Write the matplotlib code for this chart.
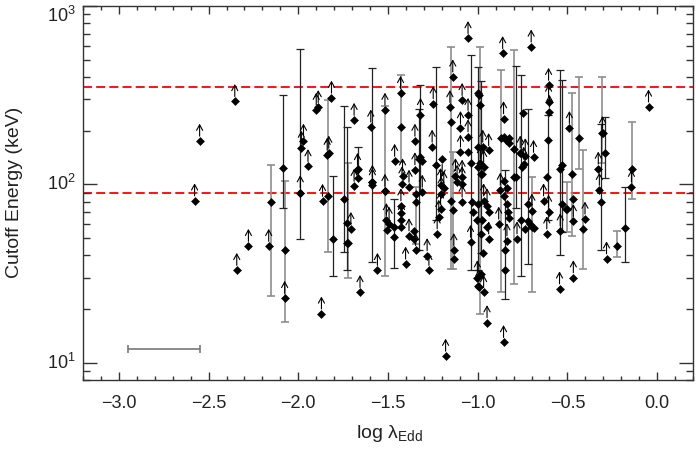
import numpy as np
import matplotlib
matplotlib.use('Agg')
import matplotlib.pyplot as plt
from matplotlib.ticker import MultipleLocator, LogLocator, NullFormatter

plt.rcParams['font.family'] = ['Liberation Sans', 'DejaVu Sans']
plt.rcParams['mathtext.fontset'] = 'custom'
plt.rcParams['mathtext.rm'] = 'Liberation Sans'

# lower limits on the cutoff energy (drawn with an up arrow)
lim_x = [-2.578, -2.55, -2.354, -2.343, -2.278, -2.165, -2.076, -1.983, -1.971, -1.946,
         -1.989, -1.900, -1.889, -1.815, -1.839, -1.830, -1.865, -1.871, -1.707, -1.689,
         -1.689, -1.670, -1.656, -1.596, -1.587, -1.587, -1.559, -1.517, -1.517, -1.509,
         -1.494, -1.463, -1.430, -1.419, -1.422, -1.383, -1.428, -1.425, -1.350, -1.350,
         -1.383, -1.346, -1.402, -1.319, -1.309, -1.282, -1.272, -1.248, -1.254, -1.226,
         -1.217, -1.207, -1.207, -1.189, -1.204, -1.179, -1.139, -1.155, -1.133, -1.124,
         -1.087, -1.087, -1.115, -1.087, -1.096, -1.096, -1.087, -1.054, -1.054, -1.054,
         -1.040, -1.002, -0.972, -0.939, -0.967, -0.985, -0.967, -0.948, -0.939, -0.967,
         -0.948, -0.994, -0.861, -0.856, -0.874, -0.883, -0.837, -0.856, -0.702, -0.781,
         -0.763, -0.735, -0.744, -0.689, -0.698, -0.605, -0.605, -0.600, -0.633, -0.605,
         -0.615, -0.544, -0.540, -0.489, -0.467, -0.467, -0.402, -0.328, -0.322, -0.304,
         -0.282, -0.143, -0.048]
lim_y = [81, 175, 292, 33, 45, 45, 23, 160, 175, 126,
         90, 261, 270, 305, 146, 150, 80.5, 18.8, 56, 229,
         97.7, 120, 24.8, 210, 103, 98.6, 33, 261, 91.6, 62.8,
         60, 135, 324, 112, 101, 96.6, 76, 63, 121, 175,
         51.6, 42.6, 35.8, 244, 90.6, 39.9, 33, 284, 162, 52.9,
         65.5, 73, 98.6, 95, 88.7, 10.9, 401, 270, 42.6, 112,
         110, 101, 103, 79.6, 206, 152, 296, 658, 244, 185,
         47.4, 30, 162, 155, 125, 131, 81, 76, 49.6, 24.8,
         16.8, 26.7, 542, 234, 93, 60, 48.4, 13, 590, 49.6,
         150, 145, 130, 142, 71, 360, 290, 254, 81, 70,
         52.9, 26, 55, 206, 62, 30, 64, 122, 92.8, 193,
         38.3, 96.6, 272]

# measured cutoffs without plotted errors
det_x = [-1.726, -1.665, -1.507, -1.467, -1.428, -1.425, -1.346, -1.355, -1.355, -1.311,
         -1.147, -1.133, -1.054, -1.030, -1.027, -0.998, -0.998, -0.998, -1.002, -0.998,
         -0.994, -0.976, -0.939, -0.976, -0.948, -0.980, -0.972, -0.980, -0.856, -0.845,
         -0.828, -0.828, -0.800, -0.855, -0.839, -0.855, -0.839, -0.833, -0.828, -0.846,
         -0.748, -0.752, -0.735, -0.717, -0.707, -0.689, -0.615, -0.532, -0.507, -0.470]
det_y = [46.8, 108, 55.8, 57.5, 69, 57.5, 79.6, 55, 49.6, 135,
         81, 38.3, 152, 79.6, 70, 324, 125, 78, 62.8, 27,
         316, 115, 70, 62.8, 57.5, 53, 41, 31.5, 185, 178,
         181, 170, 158, 105, 96, 86, 78, 70, 65, 42.6,
         251, 125, 56, 62, 60, 57, 110, 78, 73, 83]

# upper limit
ul_x = [-1.198]
ul_y = [138]

# error bars drawn in black: value, lower and upper end
ebk_x = [-2.087, -1.989, -1.804, -1.744, -1.726, -1.665, -1.587, -1.467, -1.319, -1.328,
         -1.235, -1.040, -1.000, -0.980, -0.850, -0.785, -0.757, -0.721, -0.608, -0.540,
         -0.528, -0.313, -0.291, -0.179]
ebk_y = [124, 90, 49.6, 83, 61, 122, 103, 50.6, 142, 138,
         128, 131, 162, 115, 32.9, 110, 62.8, 78, 177, 122,
         128, 79.6, 149, 56.8]
ebk_lo = [74, 49.6, 30.5, 41.7, 32.9, 108, 36.9, 33.9, 88.7, 42.6,
          62.8, 32.9, 33, 41, 22.8, 74, 30.8, 35.8, 62.8, 40,
          54, 43, 108, 36.9]
ebk_hi = [318, 571, 111, 274, 210, 162, 450, 82.5, 360, 266,
          456, 531, 456, 380, 120, 460, 409, 266, 244, 440,
          384, 217, 239, 96.6]

# error bars drawn in grey
egr_x = [-2.150, -2.076, -1.833, -1.721, -1.517, -1.430, -1.346, -1.147, -1.140, -0.989,
         -0.868, -0.796, -0.698, -0.504, -0.476, -0.435, -0.415, -0.309, -0.226, -0.139]
egr_y = [80, 43, 86, 46.8, 91.6, 210, 88.7, 224, 71.4, 278,
         181, 110, 58, 73, 115, 182, 56, 193, 45, 122]
egr_lo = [23.8, 16.9, 41.7, 29.9, 30.8, 133, 46.5, 33.6, 33.6, 18.8,
          25, 27.6, 24.8, 54, 51.6, 122, 33.6, 132, 39, 83]
egr_hi = [128, 105, 296, 132, 274, 409, 97, 590, 152, 590,
          440, 566, 110, 103, 324, 401, 156, 398, 55, 224]

# reference cutoff energies
ref_ecut = [90, 350]

# typical error on log lambda_Edd
typ_x, typ_y, typ_dx = -2.75, 12, 0.2

ytick_vals = [10, 100, 1000]
ytick_labels = [r'$\mathdefault{10^{1}}$', r'$\mathdefault{10^{2}}$', r'$\mathdefault{10^{3}}$']

fig = plt.figure(figsize=(6.96, 4.49), dpi=100)
ax = fig.add_axes([83/696, 1 - 380/449, 610/696, 374/449])
ax.set_yscale('log')
ax.set_xlim(-3.2, 0.2)
ax.set_ylim(8, 1000)

for e in ref_ecut:
    ax.axhline(e, color='red', lw=1.3, dashes=(5, 2.3), zorder=1)

ex = np.array(egr_x); ey = np.array(egr_y)
ax.errorbar(ex, ey, yerr=[ey - np.array(egr_lo), np.array(egr_hi) - ey], fmt='none',
            ecolor='#8e8e8e', elinewidth=1.2, capsize=3, capthick=1.2, zorder=2)
bx = np.array(ebk_x); by = np.array(ebk_y)
ax.errorbar(bx, by, yerr=[by - np.array(ebk_lo), np.array(ebk_hi) - by], fmt='none',
            ecolor='#222222', elinewidth=0.9, capsize=3, capthick=0.9, zorder=2)

ax.errorbar([typ_x], [typ_y], xerr=[typ_dx], fmt='none', ecolor='#777777',
            elinewidth=1.2, capsize=3, capthick=1.2)

allx = lim_x + det_x + ul_x + ebk_x + egr_x
ally = lim_y + det_y + ul_y + ebk_y + egr_y
ax.plot(allx, ally, 'D', color='k', ms=4.4, mec='k', mew=0.4, ls='none', zorder=4)

arrow = dict(arrowstyle='<-,head_length=0.4,head_width=0.22', mutation_scale=10,
             color='k', lw=0.8, shrinkA=0, shrinkB=3.5)
for x, y in zip(lim_x, lim_y):
    ax.annotate('', xy=(x, y), xytext=(0, 12.5), textcoords='offset points',
                arrowprops=arrow, zorder=3)
for x, y in zip(ul_x, ul_y):
    ax.annotate('', xy=(x, y), xytext=(0, -12.5), textcoords='offset points',
                arrowprops=arrow, zorder=3)

ax.xaxis.set_major_locator(MultipleLocator(0.5))
ax.xaxis.set_minor_locator(MultipleLocator(0.1))
ax.xaxis.set_major_formatter(plt.FuncFormatter(lambda v, p: f'{v:.1f}'.replace('-', '\u2212')))
ax.set_yticks(ytick_vals, ytick_labels, va='center')
ax.yaxis.set_minor_locator(LogLocator(base=10, subs=np.arange(2, 10), numticks=20))
ax.yaxis.set_minor_formatter(NullFormatter())
ax.set_ylim(8, 1000)
# the top label sits just below the top axis, as in the original
ax.yaxis.get_major_ticks()[2].label1.set_va('top')

ax.tick_params(which='both', direction='in', top=True, right=True, colors='#333333',
               labelcolor='#222222', labelsize=13)
ax.tick_params(axis='x', which='major', length=6, width=1, pad=11)
ax.tick_params(axis='x', which='minor', length=3, width=1)
ax.tick_params(axis='y', which='major', length=10, width=1, pad=5)
ax.tick_params(axis='y', which='minor', length=5, width=1)
for s in ax.spines.values():
    s.set_color('#333333')
    s.set_linewidth(1)

fig.text(15/696, 1 - 192/449, 'Cutoff Energy (keV)', rotation=90, ha='center',
         va='center', fontsize=14, color='#222222')
fig.text(389/696, 1 - 434/449, r'log λ$_{\mathdefault{Edd}}$', ha='center', va='center',
         fontsize=14, color='#222222')

fig.savefig('out.png', dpi=100)
